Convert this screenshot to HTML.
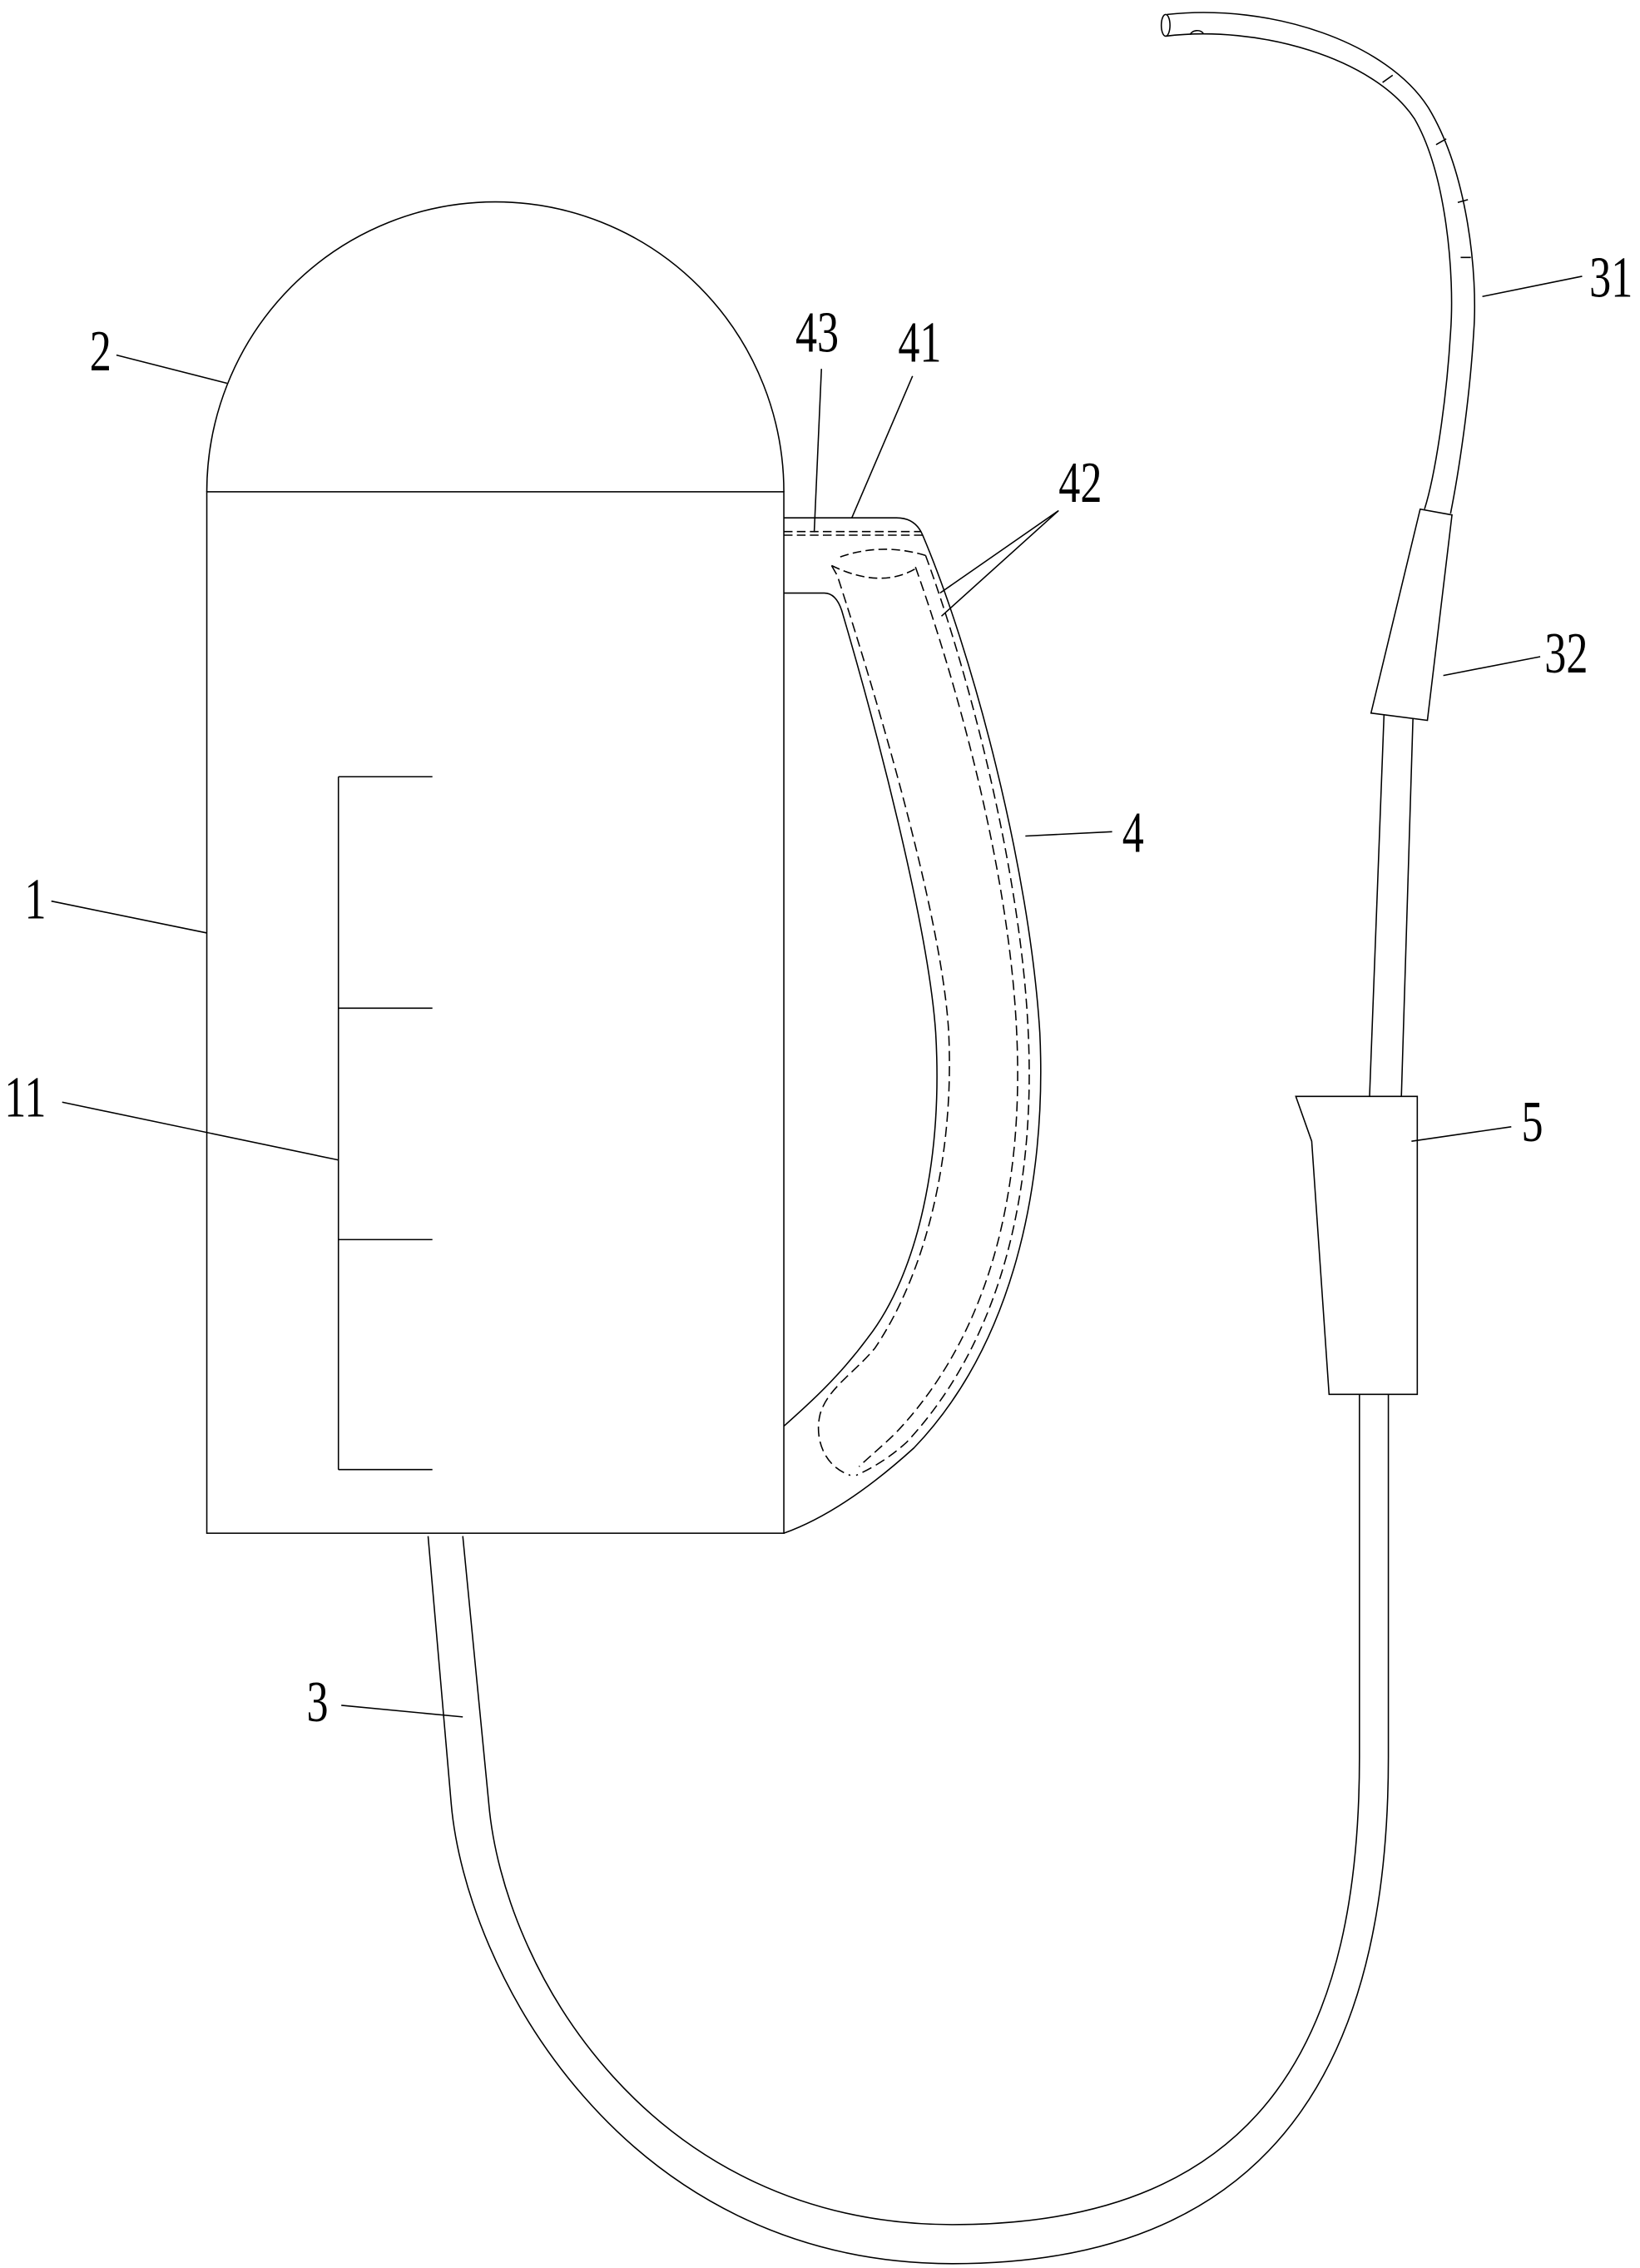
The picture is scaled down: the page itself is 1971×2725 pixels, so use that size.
<!DOCTYPE html>
<html><head><meta charset="utf-8"><style>
html,body{margin:0;padding:0;background:#fff;}
svg{display:block;}
text{font-family:"Liberation Serif",serif;font-size:40px;fill:#000;}
</style></head><body>
<svg width="1971" height="2725" viewBox="0 0 1134 1568" preserveAspectRatio="none" xmlns="http://www.w3.org/2000/svg">
<g fill="none" stroke="#000" stroke-width="0.9">
<path d="M143,340 A199,200 0 0 1 542,340"/>
<rect x="143" y="340" width="399" height="720"/>
<path d="M234,537 V1016 M234,537 H299 M234,697 H299 M234,857 H299 M234,1016 H299"/>
<path d="M542,358 L620,358 Q633,358 638,370 C672,450 712,600 719,714 C724,820 700,930 632,1001 C600,1030 570,1050 542,1060"/>
<path d="M542,410 L570,410 Q578,410 582,422 C605,500 642,640 647,714 C652,800 635,880 600,925 C580,952 560,970 542,986"/>
<path d="M542,367.5 L637,367.5 M542,370 L638,370" stroke-dasharray="6,3"/>
<path d="M581,385 Q610,375 640,384 M575,391 Q610,408 635,392" stroke-dasharray="6,3"/>
<path d="M575,391 L579,398 C612,500 652,640 656,714 C660,800 640,880 605,932 C590,950 572,960 567,978 C563,995 570,1014 588,1020" stroke-dasharray="7,3.5"/>
<path d="M640,384 C668,460 706,600 711,714 C716,820 694,925 627,997 C615,1008 603,1015 592,1020" stroke-dasharray="7,3.5"/>
<path d="M633,392 C660,468 698,600 703,714 C708,820 686,920 620,990 C610,1000 600,1008 594,1014" stroke-dasharray="7,3.5"/>
<path d="M296,1062 L312,1247 C322,1362 430,1565 659,1565 C900,1565 960,1400 960,1215 L960,964"/>
<path d="M320,1062 L338,1247 C348,1362 450,1538 659,1538 C880,1538 940,1400 940,1215 L940,964"/>
<path d="M896,758 L980,758 L980,964 L919,964 L907,789 Z"/>
<path d="M947,758 L957,494 M969,758 L977,497"/>
<path d="M982,352 L1004,356 L987,498 L948,493 Z"/>
<path d="M807,10 C880,2 960,30 988,75 C1015,120 1022,190 1019,230 C1016,280 1008,330 1003,355"/>
<path d="M806,25 C870,17 950,40 978,82 C1000,120 1006,190 1003,230 C1000,280 992,330 985,352"/>
<ellipse cx="806" cy="17.5" rx="3" ry="7.5"/>
<path d="M823,24 A5,4 0 0 1 832,23"/>
<path d="M1015,138 L1008,140 M1017,178 L1010,178 M963,52 L956,57 M1000,96 L993,100"/>
<path d="M80.5,245.5 L157,265"/>
<path d="M35.5,623 L143,645"/>
<path d="M43,762 L234,802"/>
<path d="M236,1179 L320,1187"/>
<path d="M568,255 L563,368"/>
<path d="M631,260 L589,358"/>
<path d="M732,353 L650,410 M732,353 L651,426"/>
<path d="M769,575 L709,578"/>
<path d="M1045,779 L976,789"/>
<path d="M1094,191 L1025,205"/>
<path d="M1065,454 L998,467"/>
</g>
<g>
<text transform="translate(62,256) scale(0.75,1)">2</text>
<text transform="translate(17,635) scale(0.75,1)">1</text>
<text transform="translate(3,772) scale(0.75,1)">11</text>
<text transform="translate(212,1190) scale(0.75,1)">3</text>
<text transform="translate(550,243) scale(0.75,1)">43</text>
<text transform="translate(621,250) scale(0.75,1)">41</text>
<text transform="translate(732,347) scale(0.75,1)">42</text>
<text transform="translate(776,589) scale(0.75,1)">4</text>
<text transform="translate(1052,789) scale(0.75,1)">5</text>
<text transform="translate(1099,205) scale(0.75,1)">31</text>
<text transform="translate(1068,465) scale(0.75,1)">32</text>
</g>
</svg>
</body></html>
